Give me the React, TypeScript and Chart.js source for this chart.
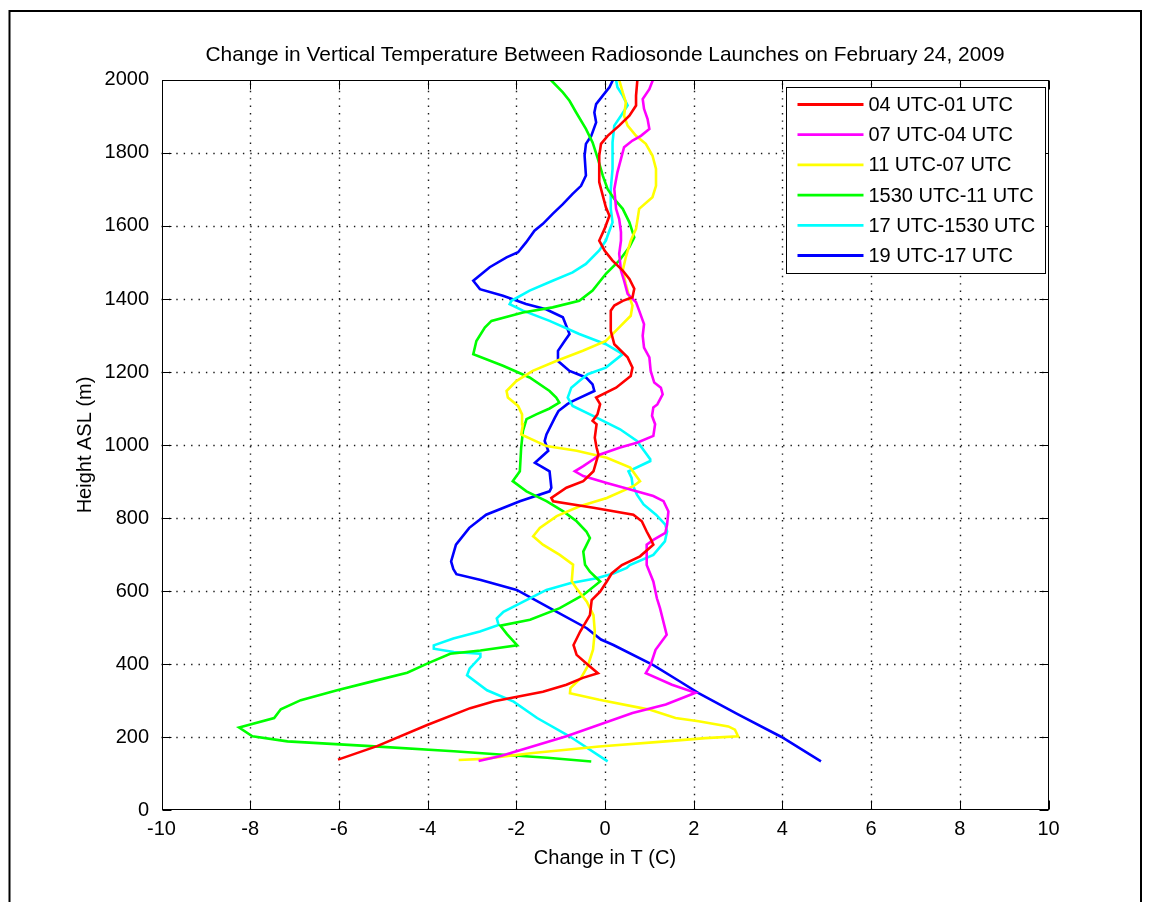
import React, { useEffect, useRef } from "react";
import { Chart, registerables } from "chart.js";

Chart.register(...registerables);

// ---------- text ----------
const TITLE = "Change in Vertical Temperature Between Radiosonde Launches on February 24, 2009";
const X_LABEL = "Change in T (C)";
const Y_LABEL = "Height ASL (m)";

// ---------- ticks ----------
const X_TICKS = [-10, -8, -6, -4, -2, 0, 2, 4, 6, 8, 10];
const Y_TICKS = [0, 200, 400, 600, 800, 1000, 1200, 1400, 1600, 1800, 2000];

// ---------- series ----------
const SERIES_LABELS = [
  "04 UTC-01 UTC",
  "07 UTC-04 UTC",
  "11 UTC-07 UTC",
  "1530 UTC-11 UTC",
  "17 UTC-1530 UTC",
  "19 UTC-17 UTC",
];
const SERIES_COLORS = ["#ff0000", "#ff00ff", "#ffff00", "#00ff00", "#00ffff", "#0000ff"];

// 04 UTC-01 UTC (red)
const redHeight = [138, 175, 233, 279, 298, 324, 343, 362, 375, 397, 425, 452, 489, 534, 575, 598, 626, 648, 671, 695, 727, 745, 763, 791, 809, 828, 846, 855, 883, 901, 928, 974, 993, 1020, 1057, 1066, 1084, 1112, 1130, 1157, 1189, 1212, 1240, 1276, 1313, 1368, 1382, 1395, 1405, 1428, 1455, 1478, 1505, 1533, 1560, 1592, 1628, 1651, 1683, 1720, 1793, 1825, 1847, 1875, 1902, 1930, 1957, 2000];
const redDT = [-6.02, -5.14, -4.01, -3.04, -2.5, -1.4, -0.87, -0.5, -0.16, -0.38, -0.64, -0.71, -0.56, -0.34, -0.3, -0.11, 0.04, 0.15, 0.38, 0.79, 1.09, 1.02, 0.94, 0.83, 0.64, -0.26, -1.17, -1.21, -0.87, -0.49, -0.26, -0.15, -0.19, -0.23, -0.19, -0.28, -0.17, -0.11, -0.2, 0.25, 0.58, 0.62, 0.51, 0.21, 0.13, 0.13, 0.21, 0.4, 0.62, 0.66, 0.55, 0.4, 0.17, -0.01, -0.13, -0.01, 0.1, 0.02, -0.05, -0.13, -0.13, -0.09, 0.06, 0.32, 0.55, 0.7, 0.7, 0.73];

// 07 UTC-04 UTC (magenta)
const magentaHeight = [134, 148, 202, 266, 289, 321, 343, 375, 398, 439, 480, 553, 580, 626, 671, 690, 727, 740, 759, 782, 818, 846, 860, 878, 896, 915, 928, 942, 961, 974, 993, 1006, 1025, 1057, 1080, 1103, 1111, 1139, 1157, 1171, 1203, 1240, 1267, 1299, 1331, 1368, 1391, 1414, 1450, 1478, 1524, 1560, 1583, 1619, 1647, 1701, 1747, 1784, 1816, 1834, 1847, 1866, 1893, 1921, 1948, 1975, 2000];
const magentaDT = [-2.85, -2.35, -0.87, 0.62, 1.37, 2.04, 1.51, 0.92, 1.03, 1.14, 1.39, 1.24, 1.17, 1.09, 0.94, 0.94, 0.94, 1.09, 1.36, 1.4, 1.43, 1.32, 1.09, 0.57, 0.04, -0.49, -0.68, -0.49, -0.26, -0.11, 0.34, 0.72, 1.09, 1.13, 1.06, 1.09, 1.18, 1.3, 1.26, 1.11, 1.03, 1.0, 0.88, 0.85, 0.88, 0.77, 0.7, 0.51, 0.43, 0.36, 0.32, 0.36, 0.36, 0.32, 0.25, 0.21, 0.28, 0.36, 0.43, 0.62, 0.81, 1.0, 0.96, 0.88, 0.85, 1.0, 1.08];

// 11 UTC-07 UTC (yellow)
const yellowHeight = [137, 140, 156, 174, 188, 197, 202, 220, 229, 243, 252, 275, 302, 320, 334, 362, 394, 439, 489, 534, 571, 607, 626, 672, 699, 727, 750, 773, 805, 832, 855, 887, 901, 938, 965, 984, 997, 1029, 1057, 1084, 1107, 1130, 1148, 1175, 1203, 1230, 1258, 1285, 1322, 1354, 1382, 1405, 1441, 1478, 1515, 1560, 1592, 1647, 1679, 1710, 1756, 1793, 1825, 1847, 1875, 1902, 1939, 1966, 2000];
const yellowDT = [-3.3, -2.75, -1.62, -0.13, 1.37, 2.26, 3.0, 2.93, 2.78, 2.11, 1.59, 1.0, -0.13, -0.79, -0.78, -0.54, -0.39, -0.27, -0.23, -0.26, -0.41, -0.64, -0.75, -0.72, -1.02, -1.4, -1.62, -1.47, -1.09, -0.57, 0.04, 0.64, 0.79, 0.57, 0.04, -0.64, -1.32, -1.89, -1.85, -1.87, -1.96, -2.19, -2.22, -2.0, -1.63, -1.1, -0.5, 0.02, 0.32, 0.58, 0.62, 0.55, 0.47, 0.4, 0.47, 0.58, 0.7, 0.77, 1.07, 1.15, 1.15, 1.07, 0.92, 0.7, 0.51, 0.43, 0.47, 0.4, 0.32];

// 1530 UTC-11 UTC (green)
const greenHeight = [133, 143, 152, 161, 175, 188, 202, 226, 252, 276, 301, 328, 351, 376, 401, 428, 437, 451, 482, 505, 521, 553, 589, 626, 653, 672, 708, 745, 763, 791, 818, 846, 873, 901, 928, 993, 1039, 1071, 1084, 1100, 1116, 1130, 1148, 1185, 1217, 1249, 1285, 1322, 1340, 1363, 1377, 1395, 1423, 1469, 1505, 1542, 1569, 1610, 1647, 1674, 1701, 1738, 1784, 1829, 1866, 1911, 1943, 1966, 2000];
const greenDT = [-0.31, -1.3, -2.37, -3.41, -5.29, -7.16, -7.95, -8.25, -7.46, -7.31, -6.86, -6.04, -5.29, -4.46, -4.01, -3.49, -2.81, -1.98, -2.21, -2.36, -1.69, -1.02, -0.49, -0.11, -0.34, -0.45, -0.49, -0.34, -0.42, -0.64, -0.94, -1.32, -1.77, -2.08, -1.92, -1.89, -1.85, -1.77, -1.55, -1.25, -1.03, -1.1, -1.25, -1.7, -2.3, -2.97, -2.9, -2.71, -2.56, -1.85, -1.18, -0.58, -0.28, 0.02, 0.32, 0.55, 0.66, 0.55, 0.4, 0.21, 0.06, -0.05, -0.16, -0.28, -0.43, -0.65, -0.8, -0.95, -1.22];

// 17 UTC-1530 UTC (cyan)
const cyanHeight = [133, 202, 252, 297, 328, 369, 388, 419, 428, 433, 442, 451, 470, 489, 507, 525, 543, 571, 603, 621, 635, 648, 663, 671, 699, 736, 763, 782, 809, 837, 864, 892, 910, 928, 956, 961, 1011, 1043, 1075, 1107, 1130, 1157, 1175, 1194, 1212, 1249, 1276, 1304, 1340, 1368, 1386, 1395, 1423, 1450, 1473, 1496, 1533, 1560, 1574, 1610, 1647, 1701, 1756, 1829, 1875, 1902, 1930, 1957, 1980, 2000];
const cyanDT = [0.06, -0.8, -1.53, -2.06, -2.66, -3.11, -3.05, -2.81, -2.81, -3.41, -3.86, -3.86, -3.42, -2.82, -2.4, -2.44, -2.29, -1.84, -1.32, -0.79, -0.19, 0.19, 0.49, 0.56, 1.09, 1.35, 1.4, 1.36, 1.15, 0.87, 0.72, 0.62, 0.6, 0.53, 1.02, 1.02, 0.72, 0.34, -0.19, -0.73, -0.84, -0.76, -0.58, -0.39, 0.02, 0.4, 0.02, -0.58, -1.25, -1.85, -2.15, -2.11, -1.7, -1.18, -0.73, -0.43, -0.13, 0.02, 0.06, 0.17, 0.13, 0.13, 0.17, 0.17, 0.21, 0.36, 0.51, 0.4, 0.28, 0.25];

// 19 UTC-17 UTC (blue)
const blueHeight = [133, 200, 262, 320, 352, 397, 452, 467, 498, 548, 603, 630, 646, 660, 681, 727, 773, 809, 846, 873, 883, 928, 942, 951, 984, 1011, 1029, 1075, 1093, 1112, 1120, 1148, 1166, 1185, 1203, 1230, 1258, 1285, 1304, 1350, 1372, 1386, 1409, 1427, 1450, 1487, 1514, 1528, 1555, 1587, 1606, 1633, 1660, 1688, 1710, 1738, 1793, 1825, 1847, 1884, 1911, 1934, 1957, 1980, 2000];
const blueDT = [4.87, 3.98, 3.0, 2.11, 1.69, 1.09, 0.19, -0.09, -0.41, -1.17, -1.99, -2.8, -3.35, -3.42, -3.47, -3.36, -3.06, -2.68, -1.92, -1.25, -1.21, -1.25, -1.45, -1.58, -1.28, -1.36, -1.32, -1.13, -1.05, -0.85, -0.73, -0.24, -0.28, -0.43, -0.8, -1.06, -1.06, -0.91, -0.8, -0.95, -1.33, -1.78, -2.3, -2.82, -2.97, -2.6, -2.22, -1.96, -1.78, -1.59, -1.4, -1.18, -0.95, -0.73, -0.54, -0.43, -0.46, -0.43, -0.31, -0.2, -0.24, -0.2, -0.05, 0.1, 0.18];

const SERIES_HEIGHTS = [redHeight, magentaHeight, yellowHeight, greenHeight, cyanHeight, blueHeight];
const SERIES_VALUES = [redDT, magentaDT, yellowDT, greenDT, cyanDT, blueDT];

const FONT_FAMILY = "'Liberation Sans', Arial, Helvetica, sans-serif";

const matlabAxesPlugin = {
  id: "matlabAxes",
  beforeDraw(chart: any) {
    const ctx = chart.ctx;
    ctx.save();
    ctx.fillStyle = "#ffffff";
    ctx.fillRect(0, 0, chart.width, chart.height);
    // outer figure border
    ctx.strokeStyle = "#000";
    ctx.lineWidth = 2;
    ctx.strokeRect(9.5, 11, 1131.5, 1000);
    ctx.restore();
  },
  beforeDatasetsDraw(chart: any) {
    const ctx = chart.ctx;
    const { left, right, top, bottom } = chart.chartArea;
    const xs = chart.scales.x;
    const ys = chart.scales.y;
    ctx.save();
    // dotted grid
    ctx.strokeStyle = "#1a1a1a";
    ctx.lineWidth = 1.4;
    ctx.setLineDash([1.4, 6]);
    X_TICKS.forEach((v, i) => {
      if (i === 0 || i === X_TICKS.length - 1) return;
      const px = Math.round(xs.getPixelForValue(v)) + 0.5;
      ctx.beginPath();
      ctx.moveTo(px, bottom);
      ctx.lineTo(px, top);
      ctx.stroke();
    });
    Y_TICKS.forEach((v, i) => {
      if (i === 0 || i === Y_TICKS.length - 1) return;
      const py = Math.round(ys.getPixelForValue(v)) + 0.5;
      ctx.beginPath();
      ctx.moveTo(left, py);
      ctx.lineTo(right, py);
      ctx.stroke();
    });
    ctx.restore();
  },
  afterDatasetsDraw(chart: any) {
    const ctx = chart.ctx;
    const { left, right, top, bottom } = chart.chartArea;
    const xs = chart.scales.x;
    const ys = chart.scales.y;
    ctx.save();
    ctx.strokeStyle = "#000";
    ctx.lineWidth = 1;
    ctx.setLineDash([]);
    const L = Math.round(left) + 0.5;
    const R = Math.round(right) - 0.5;
    const T = Math.round(top) + 0.5;
    const B = Math.round(bottom) - 0.5;
    ctx.strokeRect(L, T, R - L, B - T);
    const tl = 9;
    ctx.beginPath();
    X_TICKS.forEach((v) => {
      const px = Math.round(xs.getPixelForValue(v)) + 0.5;
      ctx.moveTo(px, B);
      ctx.lineTo(px, B - tl);
      ctx.moveTo(px, T);
      ctx.lineTo(px, T + tl);
    });
    Y_TICKS.forEach((v) => {
      const py = Math.round(ys.getPixelForValue(v)) + 0.5;
      ctx.moveTo(L, py);
      ctx.lineTo(L + tl, py);
      ctx.moveTo(R, py);
      ctx.lineTo(R - tl, py);
    });
    ctx.stroke();

    // legend box
    const boxRight = Math.round(right) - 3.5;
    const boxLeft = boxRight - 259;
    const boxTop = Math.round(top) + 7.5;
    const boxBottom = boxTop + 186;
    ctx.fillStyle = "#fff";
    ctx.fillRect(boxLeft, boxTop, boxRight - boxLeft, boxBottom - boxTop);
    ctx.strokeRect(boxLeft, boxTop, boxRight - boxLeft, boxBottom - boxTop);
    ctx.font = `20px ${FONT_FAMILY}`;
    ctx.textBaseline = "middle";
    ctx.textAlign = "left";
    chart.data.datasets.forEach((ds: any, i: number) => {
      const y = boxTop + 17 + i * 30.2;
      ctx.strokeStyle = ds.borderColor;
      ctx.lineWidth = 2.8;
      ctx.beginPath();
      ctx.moveTo(boxLeft + 11, y);
      ctx.lineTo(boxLeft + 77, y);
      ctx.stroke();
      ctx.fillStyle = "#000";
      ctx.fillText(ds.label, boxLeft + 82, y + 1);
    });
    ctx.restore();
  },
};

export default function App() {
  const canvasRef = useRef<HTMLCanvasElement | null>(null);

  useEffect(() => {
    const canvas = canvasRef.current;
    if (!canvas) return;
    const datasets = SERIES_LABELS.map((label, i) => ({
      label,
      data: SERIES_HEIGHTS[i].map((h, j) => ({ x: SERIES_VALUES[i][j], y: h })),
      borderColor: SERIES_COLORS[i],
      backgroundColor: SERIES_COLORS[i],
      borderWidth: 2.6,
      pointRadius: 0,
      tension: 0,
      fill: false,
      showLine: true,
    }));
    const chart = new Chart(canvas, {
      type: "scatter",
      data: { datasets },
      options: {
        animation: false,
        responsive: false,
        devicePixelRatio: 1,
        layout: { padding: { left: 0, right: 100.5, top: 0, bottom: 0 } },
        plugins: {
          legend: { display: false },
          tooltip: { enabled: false },
          title: {
            display: true,
            text: TITLE,
            fullSize: false,
            color: "#000",
            font: { family: FONT_FAMILY, size: 20.9, weight: "normal", lineHeight: 1.2 },
            padding: { top: 42.5, bottom: 12.4 },
          },
        },
        scales: {
          x: {
            type: "linear",
            position: "bottom",
            min: -10,
            max: 10,
            afterBuildTicks: (scale: any) => {
              scale.ticks = X_TICKS.map((v) => ({ value: v }));
            },
            afterFit: (scale: any) => {
              scale.height = 92;
            },
            grid: { display: false, drawTicks: false },
            border: { display: false },
            ticks: {
              autoSkip: false,
              maxRotation: 0,
              padding: 7,
              color: "#000",
              font: { family: FONT_FAMILY, size: 20 },
              callback: (v: any) => String(v),
            },
            title: {
              display: true,
              text: X_LABEL,
              color: "#000",
              font: { family: FONT_FAMILY, size: 20 },
              padding: { top: 0, bottom: 32 },
            },
          },
          y: {
            type: "linear",
            position: "left",
            min: 0,
            max: 2000,
            afterBuildTicks: (scale: any) => {
              scale.ticks = Y_TICKS.map((v) => ({ value: v }));
            },
            afterFit: (scale: any) => {
              scale.width = 161.5;
            },
            grid: { display: false, drawTicks: false },
            border: { display: false },
            ticks: {
              autoSkip: false,
              padding: 12.5,
              color: "#000",
              font: { family: FONT_FAMILY, size: 20 },
              callback: (v: any) => String(v),
            },
            title: {
              display: true,
              text: Y_LABEL,
              color: "#000",
              font: { family: FONT_FAMILY, size: 20 },
              padding: { top: 73, bottom: 0 },
            },
          },
        },
      },
      plugins: [matlabAxesPlugin],
    } as any);
    return () => chart.destroy();
  }, []);

  return (
    <div style={{ position: "absolute", left: 0, top: 0, width: 1149, height: 902, overflow: "hidden" }}>
      <canvas ref={canvasRef} width={1149} height={902} style={{ display: "block" }} />
    </div>
  );
}
